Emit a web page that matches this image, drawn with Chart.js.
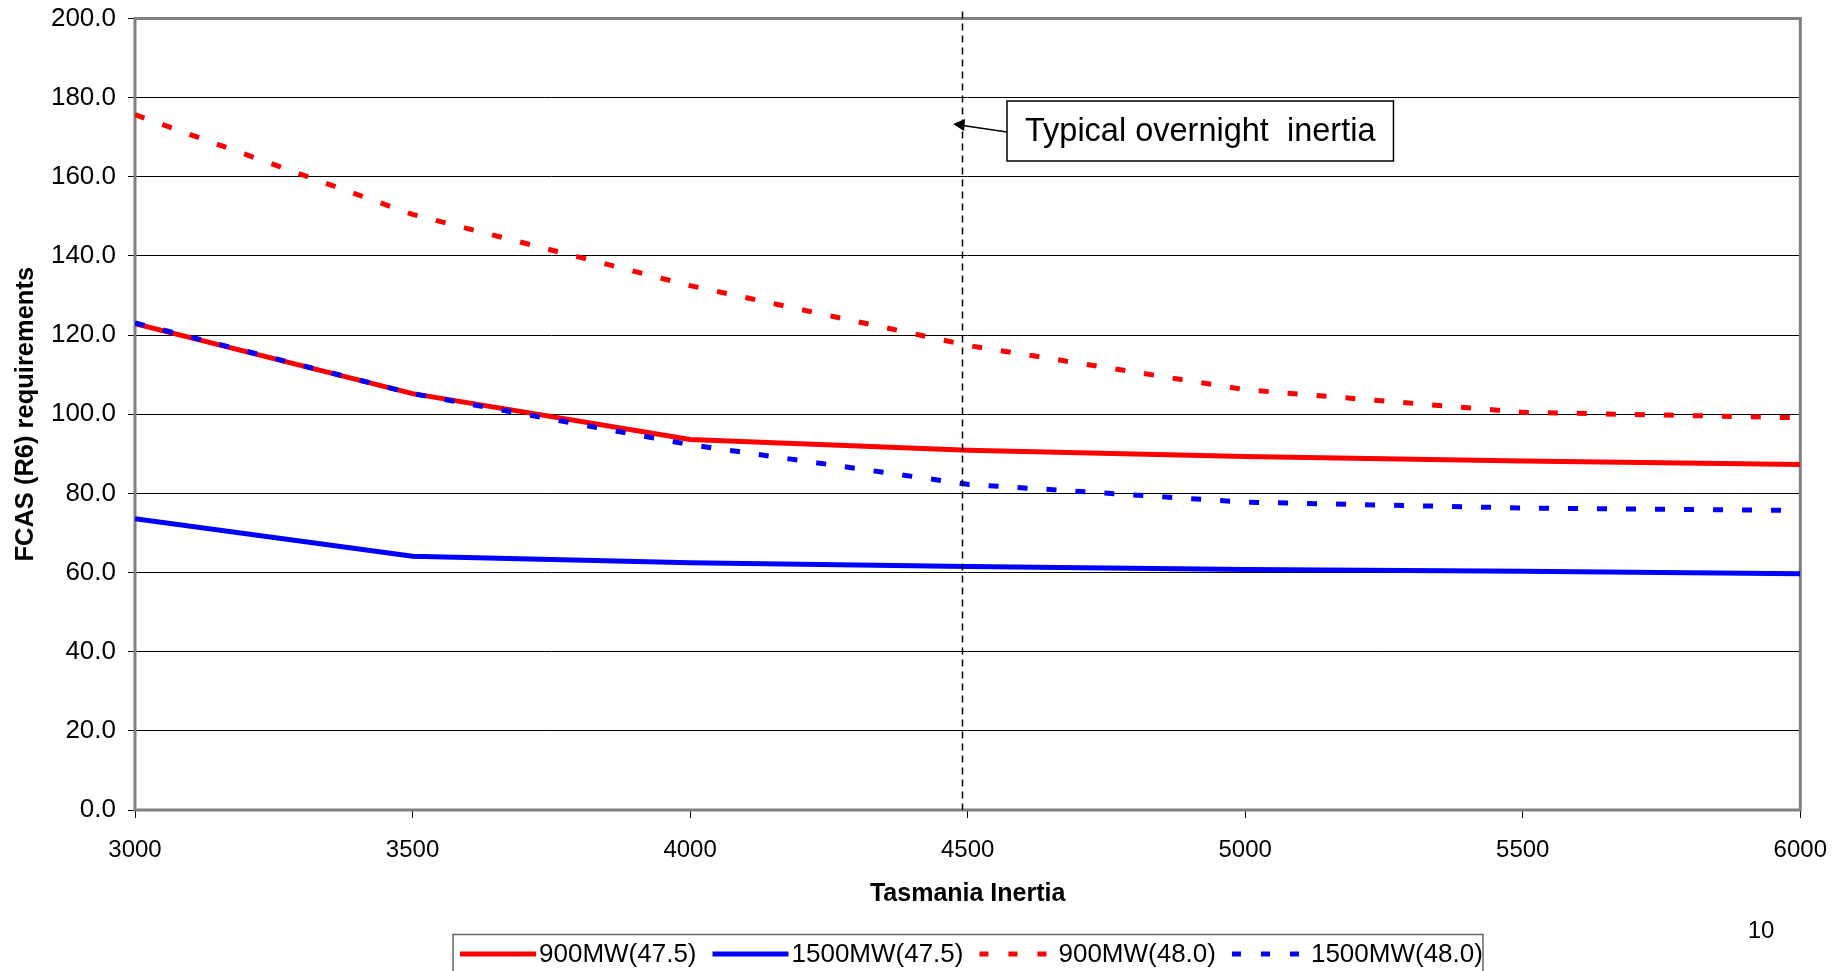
<!DOCTYPE html>
<html>
<head>
<meta charset="utf-8">
<script src="https://cdn.jsdelivr.net/npm/chart.js@4.4.0/dist/chart.umd.min.js"></script>
<style>
    html, body { margin: 0; padding: 0; background: #fff; }
    #wrap { position: relative; width: 1845px; height: 971px; }
</style>
</head>
<body>
<div id="wrap"><canvas id="chart"></canvas></div>
<script>
// Werte
const inertia = [3000, 3500, 4000, 4500, 5000, 5500, 6000];
const mw900_475 = [122.9, 105.2, 93.6, 90.9, 89.3, 88.2, 87.3];
const mw1500_475 = [73.6, 64.1, 62.5, 61.5, 60.8, 60.3, 59.7];
const mw900_480 = [175.7, 150.5, 132.5, 117.4, 106.2, 100.5, 99.1];
const mw1500_480 = [123.1, 105.2, 92.3, 82.3, 77.8, 76.3, 75.7];

const seriesLabels = ['900MW(47.5)', '1500MW(47.5)', '900MW(48.0)', '1500MW(48.0)'];
const overnightInertia = 4490;
const annotationText = 'Typical overnight  inertia';
const pageNumber = '10';

const FONT = "'Liberation Sans', Arial, sans-serif";
const DOTS = [10, 19];

const toPoints = (vals) => inertia.map((x, i) => ({ x, y: vals[i] }));

const series = [
    { label: seriesLabels[0], data: toPoints(mw900_475), color: '#ff0000', dash: [] },
    { label: seriesLabels[1], data: toPoints(mw1500_475), color: '#0000ff', dash: [] },
    { label: seriesLabels[2], data: toPoints(mw900_480), color: '#ff0000', dash: DOTS },
    { label: seriesLabels[3], data: toPoints(mw1500_480), color: '#0000ff', dash: DOTS }
];

// Rahmen, Hilfslinie, Beschriftung, Legende
const extras = {
    id: 'extras',
    beforeDatasetsDraw(chart) {
        const { ctx, chartArea: a } = chart;
        ctx.save();
        ctx.strokeStyle = '#808080';
        ctx.lineWidth = 3;
        ctx.strokeRect(a.left, a.top, a.right - a.left, a.bottom - a.top);
        ctx.restore();
    },
    afterDatasetsDraw(chart) {
        const { ctx, chartArea: a, scales } = chart;
        const x = Math.round(scales.x.getPixelForValue(overnightInertia)) + 0.5;
        ctx.save();
        ctx.strokeStyle = '#000';
        ctx.lineWidth = 1.5;
        ctx.setLineDash([7, 5]);
        ctx.beginPath();
        ctx.moveTo(x, a.top - 7);
        ctx.lineTo(x, a.bottom);
        ctx.stroke();
        ctx.restore();
    },
    afterDraw(chart) {
        const { ctx, scales } = chart;
        const lineX = scales.x.getPixelForValue(overnightInertia);
        ctx.save();

        // Textbox
        ctx.font = `32.5px ${FONT}`;
        const tw = ctx.measureText(annotationText).width;
        const bx = 1007, by = 101, bh = 60, bw = tw + 36;
        ctx.fillStyle = '#fff';
        ctx.fillRect(bx, by, bw, bh);
        ctx.strokeStyle = '#000';
        ctx.lineWidth = 1.5;
        ctx.strokeRect(bx, by, bw, bh);
        ctx.fillStyle = '#000';
        ctx.textBaseline = 'middle';
        ctx.fillText(annotationText, bx + 18, by + bh / 2 + 1);

        // Pfeil
        const tipX = lineX - 9, tipY = 124;
        ctx.beginPath();
        ctx.moveTo(bx, 132);
        ctx.lineTo(tipX + 8, tipY + 1.2);
        ctx.lineWidth = 1.5;
        ctx.stroke();
        ctx.beginPath();
        ctx.moveTo(tipX, tipY);
        ctx.lineTo(tipX + 12, tipY - 5);
        ctx.lineTo(tipX + 11, tipY + 7);
        ctx.closePath();
        ctx.fill();

        // Legende
        ctx.strokeStyle = '#666';
        ctx.lineWidth = 1.5;
        ctx.strokeRect(453, 934.5, 1030, 45);
        ctx.font = `26px ${FONT}`;
        let lx = 460;
        const ly = 954;
        series.forEach(s => {
            ctx.strokeStyle = s.color;
            ctx.lineWidth = 5;
            ctx.setLineDash(s.dash.length ? [9, 20] : []);
            ctx.beginPath();
            ctx.moveTo(lx, ly);
            ctx.lineTo(lx + 76, ly);
            ctx.stroke();
            ctx.setLineDash([]);
            ctx.fillStyle = '#000';
            ctx.textAlign = 'left';
            ctx.fillText(s.label, lx + 79, ly + 1);
            lx += 79 + ctx.measureText(s.label).width + 16;
        });

        // Seitenzahl
        ctx.font = `24px ${FONT}`;
        ctx.textAlign = 'center';
        ctx.fillText(pageNumber, 1761, 931);
        ctx.restore();
    }
};

new Chart(document.getElementById('chart'), {
    type: 'line',
    data: {
        datasets: series.map(s => ({
            label: s.label,
            data: s.data,
            borderColor: s.color,
            backgroundColor: s.color,
            borderWidth: 5,
            borderDash: s.dash,
            pointRadius: 0,
            tension: 0,
            fill: false,
            // gepunktete Linien oben
            order: s.dash.length ? 0 : 1
        }))
    },
    options: {
        responsive: true,
        maintainAspectRatio: false,
        animation: false,
        events: [],
        layout: { padding: { left: 0, top: 18.5, right: 44, bottom: 0 } },
        plugins: {
            legend: { display: false },
            tooltip: { enabled: false }
        },
        scales: {
            x: {
                type: 'linear',
                min: 3000,
                max: 6000,
                afterFit: (scale) => { scale.height = 161; },
                ticks: {
                    stepSize: 500,
                    autoSkip: false,
                    maxRotation: 0,
                    padding: 18,
                    color: '#000',
                    font: { family: FONT, size: 24 },
                    callback: (v) => v.toString()
                },
                grid: {
                    drawOnChartArea: false,
                    drawTicks: true,
                    tickLength: 8,
                    color: '#000'
                },
                border: { display: false },
                title: {
                    display: true,
                    text: 'Tasmania Inertia',
                    color: '#000',
                    font: { family: FONT, size: 25, weight: 'bold' },
                    padding: { top: 0, bottom: 62 }
                }
            },
            y: {
                min: 0,
                max: 200,
                afterFit: (scale) => {
                    scale.width = 135;
                    scale.paddingTop = 0;
                    scale.paddingBottom = 0;
                },
                ticks: {
                    stepSize: 20,
                    autoSkip: false,
                    padding: 12,
                    color: '#000',
                    font: { family: FONT, size: 26 },
                    callback: (v) => v.toFixed(1)
                },
                grid: {
                    color: '#000',
                    lineWidth: 1,
                    tickLength: 7
                },
                border: { display: false },
                title: {
                    display: true,
                    text: 'FCAS (R6) requirements',
                    color: '#000',
                    font: { family: FONT, size: 25.5, weight: 'bold' },
                    padding: { top: 11, bottom: 0 }
                }
            }
        }
    },
    plugins: [extras]
});
</script>
</body>
</html>
